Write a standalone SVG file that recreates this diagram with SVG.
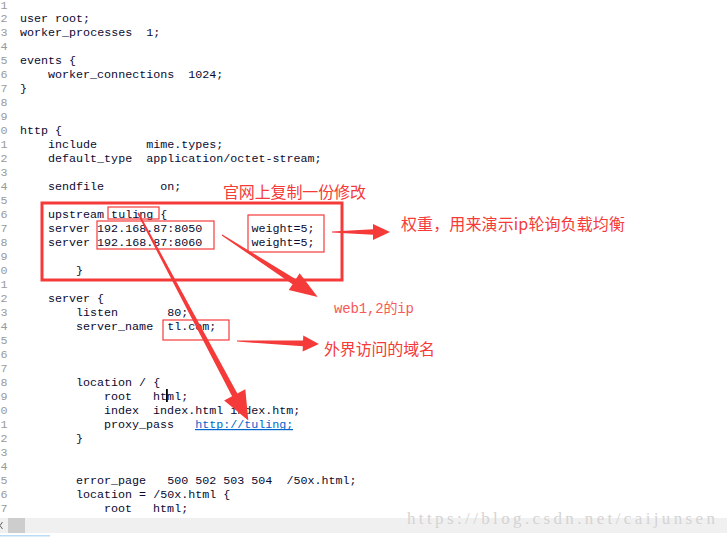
<svg xmlns="http://www.w3.org/2000/svg" width="727" height="537" viewBox="0 0 727 537">
<style>
.code{font-family:"Liberation Mono","DejaVu Sans Mono",monospace;font-size:11.7px;fill:#0a0a30;white-space:pre}
.ln{font-family:"Liberation Mono","DejaVu Sans Mono",monospace;font-size:11.7px;fill:#9a9a9a}
.box{fill:none;stroke:#f53a3a;stroke-width:1.2}
.bigbox{fill:none;stroke:#f53a3a;stroke-width:3}
.arrow{fill:#f53a3a}
.note{font-family:"Noto Sans CJK SC","Noto Sans",sans-serif;font-size:16px;fill:#f53a3a}
.note2{font-family:"Liberation Mono","Noto Sans CJK SC",monospace;font-size:14px;fill:#f55a5a}
.link{fill:#0066cc}
</style>
<rect width="727" height="537" fill="#ffffff"/>
<g id="line-numbers">
<text class="ln" x="0.5" y="9">1</text><text class="ln" x="0.5" y="22">2</text><text class="ln" x="0.5" y="36">3</text><text class="ln" x="0.5" y="50">4</text><text class="ln" x="0.5" y="64">5</text><text class="ln" x="0.5" y="78">6</text><text class="ln" x="0.5" y="92">7</text><text class="ln" x="0.5" y="106">8</text><text class="ln" x="0.5" y="120">9</text><text class="ln" x="0.5" y="134">0</text><text class="ln" x="0.5" y="148">1</text><text class="ln" x="0.5" y="162">2</text><text class="ln" x="0.5" y="176">3</text><text class="ln" x="0.5" y="190">4</text><text class="ln" x="0.5" y="204">5</text><text class="ln" x="0.5" y="218">6</text><text class="ln" x="0.5" y="232">7</text><text class="ln" x="0.5" y="246">8</text><text class="ln" x="0.5" y="260">9</text><text class="ln" x="0.5" y="274">0</text><text class="ln" x="0.5" y="288">1</text><text class="ln" x="0.5" y="302">2</text><text class="ln" x="0.5" y="316">3</text><text class="ln" x="0.5" y="330">4</text><text class="ln" x="0.5" y="344">5</text><text class="ln" x="0.5" y="358">6</text><text class="ln" x="0.5" y="372">7</text><text class="ln" x="0.5" y="386">8</text><text class="ln" x="0.5" y="400">9</text><text class="ln" x="0.5" y="414">0</text><text class="ln" x="0.5" y="428">1</text><text class="ln" x="0.5" y="442">2</text><text class="ln" x="0.5" y="456">3</text><text class="ln" x="0.5" y="470">4</text><text class="ln" x="0.5" y="484">5</text><text class="ln" x="0.5" y="498">6</text><text class="ln" x="0.5" y="512">7</text>
</g>
<g id="code" xml:space="preserve">
<text class="code" x="20" y="22">user root;</text>
<text class="code" x="20" y="36">worker_processes  1;</text>
<text class="code" x="20" y="64">events {</text>
<text class="code" x="48" y="78">worker_connections  1024;</text>
<text class="code" x="20" y="92">}</text>
<text class="code" x="20" y="134">http {</text>
<text class="code" x="48" y="148">include       mime.types;</text>
<text class="code" x="48" y="162">default_type  application/octet-stream;</text>
<text class="code" x="48" y="190">sendfile        on;</text>
<text class="code" x="48" y="218">upstream tuling {</text>
<text class="code" x="48" y="232">server 192.168.87:8050       weight=5;</text>
<text class="code" x="48" y="246">server 192.168.87:8060       weight=5;</text>
<text class="code" x="76" y="274">}</text>
<text class="code" x="48" y="302">server {</text>
<text class="code" x="76" y="316">listen       80;</text>
<text class="code" x="76" y="330">server_name  tl.com;</text>
<text class="code" x="76" y="386">location / {</text>
<text class="code" x="104" y="400">root   html;</text>
<text class="code" x="104" y="414">index  index.html index.htm;</text>
<text class="code" x="104" y="428">proxy_pass   <tspan class="link">http://tuling;</tspan></text>
<text class="code" x="76" y="442">}</text>
<text class="code" x="76" y="484">error_page   500 502 503 504  /50x.html;</text>
<text class="code" x="76" y="498">location = /50x.html {</text>
<text class="code" x="104" y="512">root   html;</text>
</g>
<rect x="195" y="429" width="98" height="1.2" fill="#0066cc"/>
<rect x="166" y="389" width="1.8" height="13" fill="#000000"/>
<g id="scrollbar">
<rect x="0" y="518" width="727" height="15" fill="#f0f0f0"/>
<rect x="8" y="518" width="17" height="15" fill="#cdcdcd"/>
<rect x="0" y="535" width="50" height="1.5" fill="#bcdcf4"/>
<path d="M2.5,522 L0,525.5 L2.5,529" fill="none" stroke="#606060" stroke-width="1"/>
</g>
<g id="upstream-box"><rect class="bigbox" x="42" y="203" width="300" height="77"/></g>
<g id="tuling-box"><rect class="box" x="108" y="207" width="51" height="12"/></g>
<g id="ip-box"><rect class="box" x="97" y="221" width="117" height="28"/></g>
<g id="weight-box"><rect class="box" x="248" y="215" width="76" height="37"/></g>
<g id="domain-box"><rect class="box" x="163" y="320" width="66" height="20"/></g>
<g id="note-copy"><text class="note" x="223" y="198" textLength="143">官网上复制一份修改</text></g>
<g id="note-weight"><text class="note" x="401" y="230" textLength="224">权重，用来演示ip轮询负载均衡</text></g>
<g id="note-web"><text class="note2" x="334" y="313" textLength="80">web1,2的ip</text></g>
<g id="note-domain"><text class="note" x="324" y="355" textLength="111">外界访问的域名</text></g>
<g id="connectors">
<polygon class="arrow" transform="translate(332,232)" points="0,-0.6 41,-2.8 41,-8 58,0 41,8 41,2.8 0,0.6"/>
<polygon class="arrow" transform="translate(222,235) rotate(32.9)" points="0,-0.6 86,-3 86,-10 114,0 86,10 86,3 0,0.6"/>
<polygon class="arrow" transform="translate(237,341) rotate(2.1)" points="0,-0.6 66,-2.8 66,-8 82,0 66,8 66,2.8 0,0.6"/>
<polygon class="arrow" transform="translate(138,213) rotate(62)" points="0,-0.8 206,-3 206,-12 235,0 206,12 206,3 0,0.8"/>
</g>
<text x="407" y="524" font-family="Liberation Serif, serif" font-size="17" fill="#d4d4d4" textLength="308">https://blog.csdn.net/caijunsen</text>
</svg>
